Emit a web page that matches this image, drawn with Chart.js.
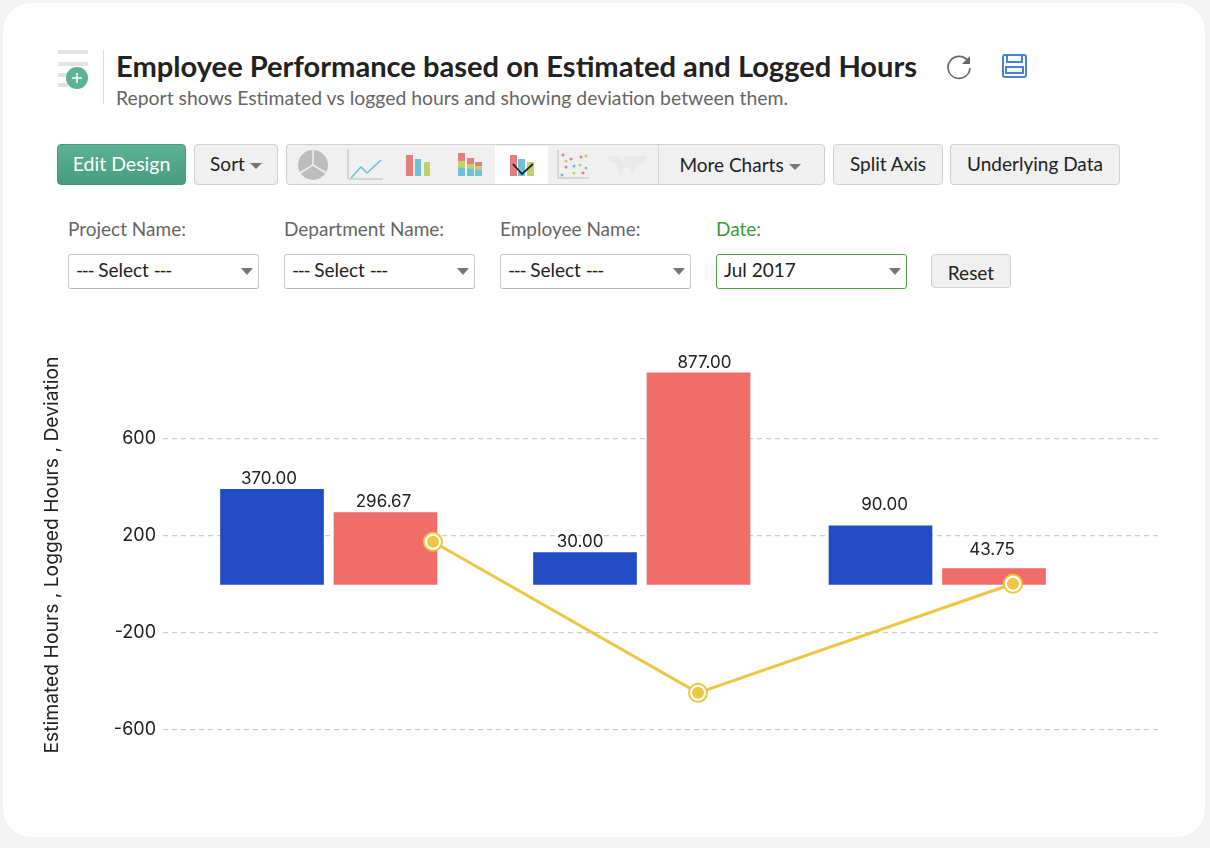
<!DOCTYPE html>
<html>
<head>
<meta charset="utf-8">
<title>Employee Performance</title>
<script src="https://cdn.jsdelivr.net/npm/chart.js@4/dist/chart.umd.min.js"></script>
<style>
  html, body { margin: 0; padding: 0; }
  body { width: 1210px; height: 848px; background: #f4f4f4; overflow: hidden; position: relative;
         font-family: Lato, sans-serif; color: #222; }
  #card { position: absolute; left: 3px; top: 3px; width: 1202px; height: 834px; background: #fff; border-radius: 28px; }
  .abs { position: absolute; box-sizing: border-box; white-space: nowrap; }
  .btn { height: 41px; line-height: 38px; text-align: center; font-size: 19px; background: #f0f0f0;
         border: 1.5px solid #d0d0d0; border-radius: 4px; color: #222; top: 144px; }
  .caret { display: inline-block; width: 0; height: 0; border-left: 6px solid transparent; border-right: 6px solid transparent;
           border-top: 6px solid #777; margin-left: 5px; vertical-align: 2px; }
  .lab { top: 217px; font-size: 19px; color: #666; }
  .sel { top: 254px; height: 35px; width: 191px; line-height: 30px; font-size: 19px; padding-left: 7px;
         background: #fff; border: 1.5px solid #c9c9c9; border-bottom-color: #b5b5b5; border-radius: 3px; color: #222; }
  .sel b { font-weight: 400; letter-spacing: -1.3px; }
  .sel i { position: absolute; right: 5px; top: 13px; width: 0; height: 0; border-left: 6px solid transparent;
           border-right: 6px solid transparent; border-top: 7px solid #777; }
  #plot { position: absolute; left: 40px; top: 342px; width: 1118px; height: 426px; }
</style>
</head>
<body>
<div id="card"></div>

<svg class="abs" style="left:50px;top:44px" width="60" height="64">
  <g fill="#e3e3e3"><rect x="8" y="6" width="30" height="4"/><rect x="8" y="18" width="30" height="4"/>
  <rect x="8" y="29" width="14" height="4"/><rect x="8" y="39" width="10" height="4"/></g>
  <circle cx="27" cy="34" r="11" fill="#5cb295"/>
  <path d="M27 29v10M22 34h10" stroke="#fff" stroke-width="1.6"/>
  <rect x="53" y="6" width="1" height="54" fill="#dcdcdc"/>
</svg>
<div class="abs" id="title" style="left:116px;top:48px;font-size:29.1px;font-weight:700;color:#222">Employee Performance based on Estimated and Logged Hours</div>
<div class="abs" id="sub" style="left:116px;top:86px;font-size:19.4px;color:#666">Report shows Estimated vs logged hours and showing deviation between them.</div>
<svg class="abs" style="left:945px;top:52px" width="30" height="28" fill="none">
  <path d="M23 9a11 11 0 1 0 2 7" stroke="#666" stroke-width="1.6"/><path d="M25 4v8h-8z" fill="#666"/>
</svg>
<svg class="abs" style="left:1001px;top:53px" width="28" height="26" fill="none" stroke="#4a80d8" stroke-width="2">
  <rect x="2" y="2" width="23" height="22" rx="2"/><path d="M6 2v7h15V2M5 14h17v6H5z"/>
</svg>

<div class="abs btn" style="left:57px;width:129px;font-size:19.5px;background:linear-gradient(#5cb295,#479c80);border-color:#46997d;color:#fff">Edit Design</div>
<div class="abs btn" style="left:194px;width:84px">Sort<span class="caret"></span></div>
<div class="abs btn" style="left:286px;width:539px"></div>
<div class="abs" style="left:495px;top:146px;width:53px;height:38px;background:#fff"></div>
<div class="abs" style="left:658px;top:145px;width:1px;height:39px;background:#d6d6d6"></div>
<div class="abs btn" style="left:659px;width:166px;padding-right:4px;background:none;border:none;line-height:41px">More Charts<span class="caret"></span></div>
<svg class="abs" style="left:290px;top:146px" width="365" height="38" fill="none">
  <circle cx="23" cy="19" r="15" fill="#bdbdbd"/><path d="M23 19V4M23 19L10 27M23 19l13 8" stroke="#efefef" stroke-width="1.5"/>
  <path d="M58 3v30h35" stroke="#bbb" stroke-width="1"/><path d="M61 32l10-11 6 6 14-13" stroke="#6fc0da" stroke-width="1.6"/>
  <rect x="116" y="9" width="7" height="21" fill="#e57f7f"/><rect x="125" y="13" width="6" height="17" fill="#6fc0da"/><rect x="134" y="16" width="6" height="14" fill="#bfd16b"/>
  <rect x="168" y="7" width="7" height="8" fill="#e57f7f"/><rect x="168" y="15" width="7" height="7" fill="#bfd16b"/><rect x="168" y="22" width="7" height="8" fill="#6fc0da"/>
  <rect x="177" y="12" width="7" height="6" fill="#e57f7f"/><rect x="177" y="18" width="7" height="5" fill="#bfd16b"/><rect x="177" y="23" width="7" height="7" fill="#6fc0da"/>
  <rect x="185" y="16" width="7" height="4" fill="#e57f7f"/><rect x="185" y="20" width="7" height="4" fill="#bfd16b"/><rect x="185" y="24" width="7" height="6" fill="#6fc0da"/>
  <rect x="220" y="9" width="7" height="21" fill="#e57f7f"/><rect x="228" y="13" width="7" height="17" fill="#6fc0da"/><rect x="237" y="16" width="7" height="14" fill="#bfd16b"/>
  <path d="M223 18l9 10 11-10" stroke="#222" stroke-width="1.8"/>
  <path d="M268 4v28h31" stroke="#bbb" stroke-width="1"/>
  <g fill="#e57f7f"><circle cx="273" cy="9" r="1.5"/><circle cx="281" cy="13" r="1.5"/><circle cx="291" cy="11" r="1.5"/><circle cx="276" cy="21" r="1.5"/><circle cx="293" cy="27" r="1.5"/></g>
  <g fill="#6fc0da"><circle cx="272" cy="29" r="1.5"/><circle cx="284" cy="20" r="1.5"/><circle cx="296" cy="22" r="1.5"/></g>
  <g fill="#bfd16b"><circle cx="276" cy="15" r="1.5"/><circle cx="290" cy="19" r="1.5"/><circle cx="284" cy="27" r="1.5"/><circle cx="296" cy="10" r="1.5"/></g>
  <path d="M318 10h11l3 5 4-5h22l-4 7-8 2-3 9-3-6-6-1-4 9-3-11-7-4z" fill="#e8e8e8"/>
</svg>
<div class="abs btn" style="left:833px;width:110px">Split Axis</div>
<div class="abs btn" style="left:950px;width:170px">Underlying Data</div>

<div class="abs lab" style="left:68px">Project Name:</div>
<div class="abs lab" style="left:284px">Department Name:</div>
<div class="abs lab" style="left:500px">Employee Name:</div>
<div class="abs lab" style="left:716px;color:#3f9a35">Date:</div>
<div class="abs sel" style="left:68px"><b>---</b> Select <b>---</b><i></i></div>
<div class="abs sel" style="left:284px"><b>---</b> Select <b>---</b><i></i></div>
<div class="abs sel" style="left:500px"><b>---</b> Select <b>---</b><i></i></div>
<div class="abs sel" style="left:716px;border-color:#4f9f45">Jul 2017<i></i></div>
<div class="abs btn" style="left:931px;top:254px;width:80px;height:34px;line-height:36px">Reset</div>

<div id="plot"><canvas id="myChart"></canvas></div>

<script>
"use strict"

// bar heights; the printed labels below don't scale with them in the original
const estimated_hours = [392, 131, 242]
const logged_hours = [296, 873, 65]
const deviation = [176, -447, 3]

const estimated_labels = ["370.00", "30.00", "90.00"]
const logged_labels = ["296.67", "877.00", "43.75"]

// the x axis is hidden and the groups aren't evenly spaced, so each series has its own x values
const estimated_x = [1.09, 4.22, 7.175]
const logged_x = [2.225, 5.355, 8.31]
const deviation_x = [2.70, 5.35, 8.50]

const y_ticks = [600, 200, -200, -600]
const y_title = "Estimated Hours , Logged Hours , Deviation"

function points(xs, ys){
  return xs.map((x, i) => ({x: x, y: ys[i]}))
}

const font_family = 'Inter, sans-serif'

// small shifts so the value labels sit where they do in the reference
const estimated_nudge = [[-3, 0], [-5, 0], [4, -10]]
const logged_nudge = [[-2, 0], [6, 1], [-2, -8]]

const value_labels = {
  id: "value_labels",
  afterDatasetsDraw(chart){
    const c = chart.ctx
    c.save()
    c.font = "17px " + font_family
    c.fillStyle = "#222"
    c.textAlign = "center"
    c.textBaseline = "middle"
    chart.getDatasetMeta(0).data.forEach((bar, i) => {
      c.fillText(estimated_labels[i], bar.x + estimated_nudge[i][0], bar.y - 11 + estimated_nudge[i][1])
    })
    chart.getDatasetMeta(1).data.forEach((bar, i) => {
      c.fillText(logged_labels[i], bar.x + logged_nudge[i][0], bar.y - 11 + logged_nudge[i][1])
    })
    c.restore()
  }
}

Chart.defaults.font.family = font_family

let graph = new Chart(document.getElementById("myChart"), {
  data: {
    datasets: [
      {
        type: "bar",
        label: "Estimated Hours",
        data: points(estimated_x, estimated_hours),
        backgroundColor: "#224bc4",
        barThickness: 103,
        grouped: false,
        order: 3,
      },
      {
        type: "bar",
        label: "Logged Hours",
        data: points(logged_x, logged_hours),
        backgroundColor: "#ef6d69",
        barThickness: 103,
        grouped: false,
        order: 3,
      },
      {
        type: "line",
        label: "Deviation",
        data: points(deviation_x, deviation),
        borderColor: "#ecc644",
        borderWidth: 3,
        pointRadius: 10,
        pointBackgroundColor: "#ecc644",
        pointBorderWidth: 0,
        order: 2,
      },
      {
        type: "line",
        label: "Deviation marker",
        data: points(deviation_x, deviation),
        showLine: false,
        pointRadius: 7,
        pointBackgroundColor: "#ecc644",
        pointBorderColor: "#fff",
        pointBorderWidth: 2,
        order: 1,
      },
    ]
  },
  options: {
    responsive: true,
    maintainAspectRatio: false,
    animation: false,
    layout: { padding: 0, autoPadding: false },
    plugins: { legend: { display: false } },
    scales: {
      x: {
        type: "linear",
        display: false,
        offset: false,
        min: 0,
        max: 9.95,
      },
      y: {
        min: -757,
        max: 1000,
        grid: {
          color: "#cdcdcd",
          lineWidth: 1.3,
          drawTicks: false,
        },
        border: { display: false, dash: [5, 4] },
        ticks: {
          color: "#222",
          padding: 7,
          font: { size: 18 },
        },
        title: {
          display: true,
          text: y_title,
          color: "#222",
          font: { size: 19.3 },
          padding: { top: 1, bottom: 0 },
        },
        afterBuildTicks(axis){
          axis.ticks = y_ticks.map(v => ({value: v}))
        },
        afterFit(axis){
          axis.width = 123
          axis.paddingTop = 0
          axis.paddingBottom = 0
        },
      }
    }
  },
  plugins: [value_labels]
})
</script>
</body>
</html>
